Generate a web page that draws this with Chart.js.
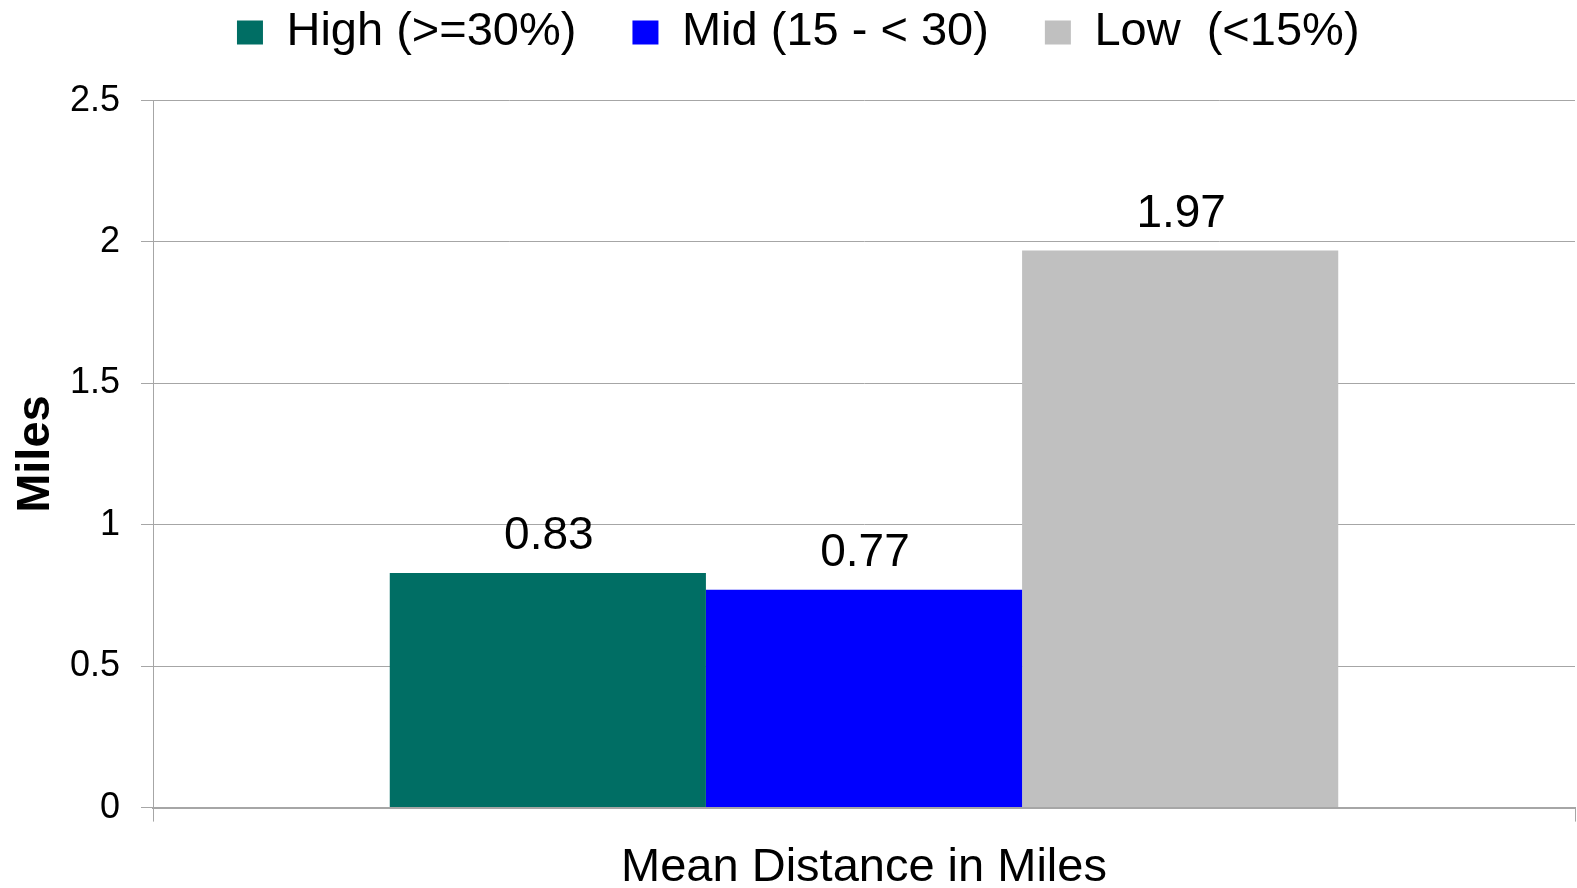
<!DOCTYPE html>
<html>
<head>
<meta charset="utf-8">
<title>Mean Distance in Miles</title>
<script src="https://cdn.jsdelivr.net/npm/chart.js@4.4.1/dist/chart.umd.min.js"></script>
<style>
  html, body { margin: 0; padding: 0; background: #ffffff; }
  canvas { display: block; }
</style>
</head>
<body>
<canvas id="chart" width="1577" height="888"></canvas>
<script>
// Chart data
const categories = ['Mean Distance in Miles'];
const seriesNames = ['High (>=30%)', 'Mid (15 - < 30)', 'Low  (<15%)'];
const highValues = [0.83];
const midValues = [0.77];
const lowValues = [1.97];
const yTickValues = [0, 0.5, 1, 1.5, 2, 2.5];

// Styling
const seriesColors = ['#006E64', '#0000FF', '#C0C0C0'];
const FONT = "'Liberation Sans', Arial, Helvetica, sans-serif";
const GRID = '#a6a6a6';

// Writes each bar's value just above the bar
const valueLabels = {
  id: 'valueLabels',
  afterDatasetsDraw(chart) {
    const ctx = chart.ctx;
    ctx.save();
    ctx.font = '46px ' + FONT;
    ctx.fillStyle = '#000000';
    ctx.textAlign = 'center';
    ctx.textBaseline = 'alphabetic';
    chart.data.datasets.forEach((ds, i) => {
      const meta = chart.getDatasetMeta(i);
      meta.data.forEach((bar, j) => {
        ctx.fillText(ds.data[j].toFixed(2), bar.x + 1, bar.y - 23.5);
      });
    });
    ctx.restore();
  }
};

const seriesValues = [highValues, midValues, lowValues];

new Chart(document.getElementById('chart'), {
  type: 'bar',
  data: {
    labels: categories,
    datasets: seriesNames.map((name, i) => ({
      label: name,
      data: seriesValues[i],
      backgroundColor: seriesColors[i],
      borderWidth: 0,
      categoryPercentage: 0.667,
      barPercentage: 1.0
    }))
  },
  options: {
    responsive: false,
    animation: false,
    events: [],
    devicePixelRatio: 1,
    layout: {
      padding: { top: -47, left: 21.5, right: 2, bottom: 0 }
    },
    plugins: {
      tooltip: { enabled: false },
      legend: {
        display: true,
        position: 'top',
        align: 'center',
        labels: {
          color: '#000000',
          font: { family: FONT, size: 47 },
          boxWidth: 26,
          boxHeight: 24,
          padding: 56
        }
      },
      // empty spacer between legend and plot area
      title: {
        display: true,
        text: '',
        weight: 500,
        font: { family: FONT, size: 10, lineHeight: 1 },
        padding: { top: 24.6, bottom: 0 }
      }
    },
    scales: {
      x: {
        offset: true,
        grid: {
          display: true,
          offset: true,
          drawOnChartArea: false,
          drawTicks: true,
          tickLength: 14,
          color: GRID,
          lineWidth: 1
        },
        border: { display: true, color: GRID, width: 2 },
        ticks: {
          color: '#000000',
          font: { family: FONT, size: 47 },
          padding: 18,
          maxRotation: 0
        },
        afterFit(scale) { scale.height = 80.4; }
      },
      y: {
        min: 0,
        max: 2.5,
        afterBuildTicks(scale) {
          scale.ticks = yTickValues.map(v => ({ value: v }));
        },
        ticks: {
          color: '#000000',
          font: { family: FONT, size: 36 },
          padding: 21,
          callback: v => String(v)
        },
        grid: { color: GRID, lineWidth: 1, tickLength: 12 },
        border: { display: true, color: GRID, width: 1 },
        title: {
          display: true,
          text: 'Miles',
          color: '#000000',
          font: { family: FONT, size: 47, weight: 'bold', lineHeight: 1 },
          padding: { top: -9.3, bottom: 0 }
        },
        afterFit(scale) { scale.width = 131.5; }
      }
    }
  },
  plugins: [valueLabels]
});
</script>
</body>
</html>
